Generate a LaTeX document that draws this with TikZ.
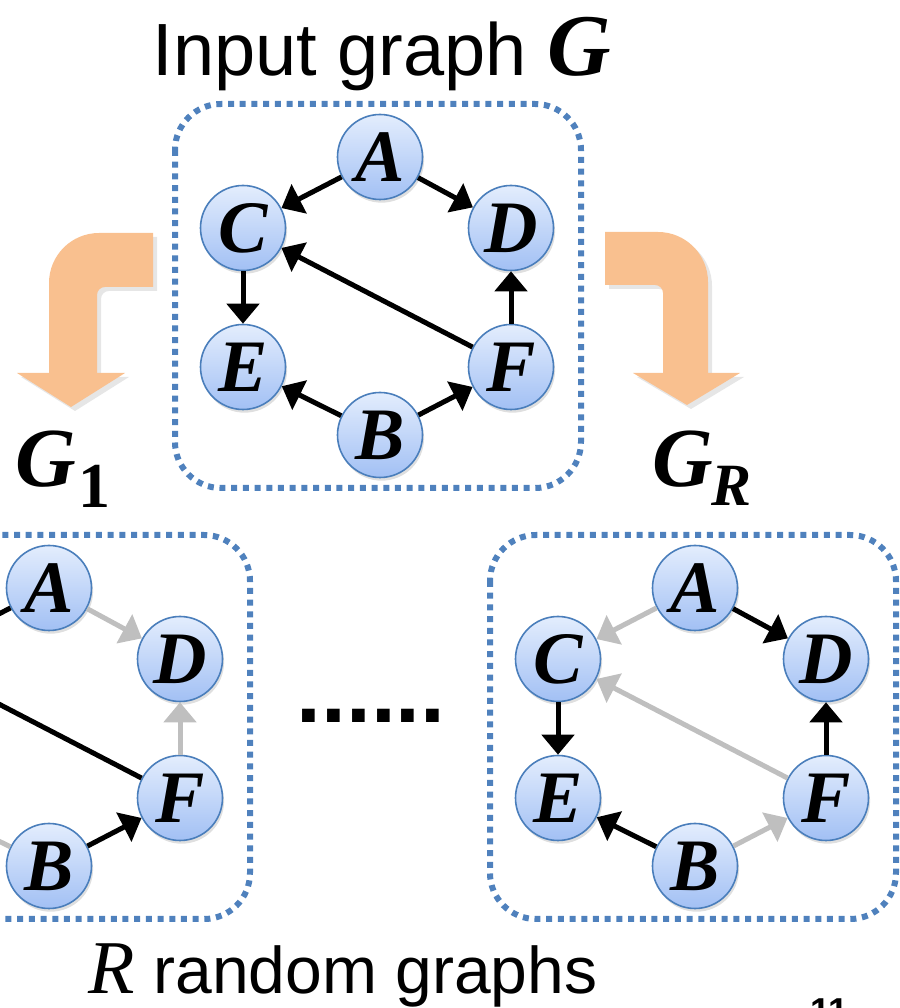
\documentclass[tikz,border=0pt]{standalone}
\usepackage{amsmath}
\usepackage{fontspec}
\setmainfont{Liberation Sans}
\newfontfamily\letterfont{Liberation Serif}
\usetikzlibrary{arrows.meta,shadows}

\definecolor{boxblue}{HTML}{4F81BD}
\definecolor{nodeline}{HTML}{4A7EBB}
\definecolor{nodetop}{HTML}{E3EDFD}
\definecolor{nodebottom}{HTML}{A2C0F4}
\definecolor{edgegray}{HTML}{BFBFBF}
\definecolor{bentorange}{HTML}{F9C08F}

% bold italic letters for vertices and graph names
\newcommand{\vname}[1]{{\letterfont\bfseries\itshape #1}}

\begin{document}
\begin{tikzpicture}[x=0.5pt,y=0.5pt,>={Triangle[length=10pt,width=16pt]}]
    \tikzstyle{vertex}=[circle,draw=nodeline,line width=0.8pt,top color=nodetop,bottom color=nodebottom,
      minimum size=42.5pt,inner sep=0pt,font=\fontsize{37}{37}\selectfont,
      drop shadow={shadow xshift=0.8pt,shadow yshift=-1.6pt,opacity=0.25}]
    \tikzstyle{link}=[->,line width=2.5pt]
    \tikzstyle{dotbox}=[draw=boxblue,line width=3pt,dash pattern=on 3pt off 2.85pt,rounded corners=23pt]
    \tikzstyle{bentarrow}=[fill=bentorange,drop shadow={shadow xshift=2pt,shadow yshift=-2pt,opacity=0.2}]
    \tikzstyle{bigtext}=[inner sep=0pt,font=\fontsize{37}{40}\selectfont]

    \useasboundingbox (0,0) rectangle (900,1008);
    \clip (0,0) rectangle (900,1008);

    % dotted frames round the three graphs
    \foreach \ax/\ay in {380/851, 49/420, 695/420}
    \draw[dotbox] (\ax-205,\ay+53) rectangle (\ax+201,\ay-331);

    % vertices: T = input graph, R = last sample
    \foreach \g/\ax/\ay in {T/380/851, R/695/420}
    \foreach \n/\dx/\dy in {A/0/0, C/-137/-71, D/131/-71, E/-137/-210, F/131/-210, B/0/-278}
    \node[vertex] (\g-\n) at (\ax+\dx,\ay+\dy) {\vname{\n}};

    % L = first sample, its left column runs off the page
    \foreach \n/\dx/\dy in {A/0/0, D/131/-71, F/131/-210, B/0/-278}
    \node[vertex] (L-\n) at (49+\dx,420+\dy) {\vname{\n}};
    \node[vertex] (L-C) at (-88,349) {};
    \node[vertex] (L-E) at (-88,210) {};

    % input graph, all edges kept
    \foreach \s/\t in {A/C, A/D, C/E, F/C, F/D, B/E, B/F}
    \draw[link] (T-\s) -- (T-\t);

    % sampled graphs, dropped edges in gray
    \foreach \s/\t/\c in {A/C/black, A/D/edgegray, C/E/edgegray, F/C/black, F/D/edgegray, B/E/edgegray, B/F/black}
    \draw[link,color=\c] (L-\s) -- (L-\t);
    \foreach \s/\t/\c in {A/C/edgegray, A/D/black, C/E/black, F/C/edgegray, F/D/black, B/E/black, B/F/edgegray}
    \draw[link,color=\c] (R-\s) -- (R-\t);

    % bent arrows down to the samples
    \fill[bentarrow] (153,775) [rounded corners=25pt] -- (49,775) [sharp corners] -- (49,635) -- (17,635)
      -- (71,601) -- (125,635) -- (97,635) [rounded corners=4pt] -- (97,721) [sharp corners] -- (153,721) -- cycle;
    \fill[bentarrow] (605,776) [rounded corners=25pt] -- (708,776) [sharp corners] -- (708,635) -- (740,635)
      -- (687,603) -- (633,635) -- (663,635) [rounded corners=4pt] -- (663,723) [sharp corners] -- (605,723) -- cycle;

    % texts
    \node[bigtext,anchor=base] (title) at (382,932) {Input graph {\fontsize{44}{44}\selectfont\vname{G}}};
    \node[bigtext,anchor=base west,font=\fontsize{42}{42}\selectfont] (first) at (15,521)
      {\vname{G}\kern1pt\raisebox{-0.25em}{\fontsize{32}{32}\selectfont\letterfont\bfseries 1}};
    \node[bigtext,anchor=base west,font=\fontsize{42}{42}\selectfont] (last) at (652,521)
      {\vname{G}\kern-1pt\raisebox{-0.22em}{\fontsize{30}{30}\selectfont\vname{R}}};
    \node[bigtext,anchor=base,font=\fontsize{44.6}{46}\selectfont\bfseries] (dots) at (371,285) {......};
    \node[bigtext,anchor=base,font=\fontsize{33}{36}\selectfont] (caption) at (343,15)
      {{\fontsize{38}{38}\selectfont\letterfont\itshape R} random graphs};
    \node[bigtext,anchor=base west,font=\fontsize{18}{20}\selectfont\bfseries] (page) at (810,-16) {11};
\end{tikzpicture}
\end{document}
